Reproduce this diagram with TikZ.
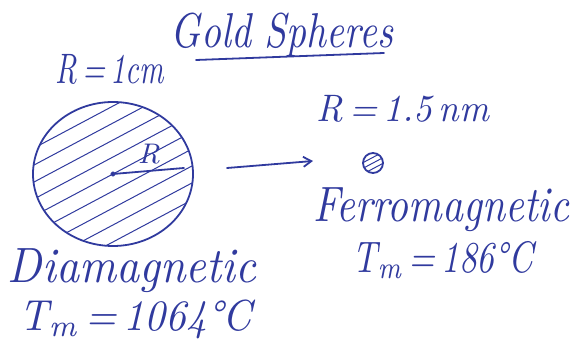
\documentclass[tikz,border=0pt]{standalone}
\usepackage{fontspec}
\setmainfont{Latin Modern Roman}
\usetikzlibrary{arrows.meta}
\definecolor{ink}{RGB}{48,58,158}
\begin{document}
\begin{tikzpicture}[x=1pt,y=1pt,
  ink/.style={draw=ink, line width=1.8pt, line cap=round, line join=round},
  hatch/.style={draw=ink, line width=1pt, line cap=round},
  hand/.style={text=ink, inner sep=0pt, anchor=center, font=\itshape}]
\useasboundingbox (0,0) rectangle (574,-344);
% title
\node[hand] (title) at (282,-35) {\resizebox*{222pt}{44pt}{Gold Spheres}};
\coordinate (ul1) at (196,-60);
\coordinate (ul2) at (384,-53);
\draw[ink] (ul1) -- (ul2);
% large sphere
\node[hand] (R1) at (110,-69) {\resizebox*{108pt}{30pt}{R\,=\,1cm}};
\coordinate (c1) at (113,-174);
\begin{scope}
  \clip (c1) ellipse [x radius=80, y radius=72];
  \foreach \k in {-5,...,5} {
    \draw[hatch, shift={(c1)}, rotate=28] (-100,\k*15) -- (100,\k*15);
  }
\end{scope}
\draw[ink] (c1) ellipse [x radius=80, y radius=72];
\fill[ink] (c1) circle (1.8);
\coordinate (rend) at (184,-168);
\draw[ink] (c1) -- (rend);
\node[hand] (Rlab) at (149,-154) {\resizebox*{22pt}{20pt}{R}};
% arrow
\coordinate (a1) at (227,-168);
\coordinate (a2) at (313,-161);
\draw[ink, -{Straight Barb[length=8pt,width=10pt]}] (a1) -- (a2);
% small sphere
\node[hand] (R2) at (403,-109) {\resizebox*{172pt}{27pt}{R\,=\,1.5\,nm}};
\coordinate (c2) at (373,-163);
\begin{scope}
  \clip (c2) circle (10);
  \foreach \k in {-1,0,1} {
    \draw[hatch, shift={(c2)}, rotate=28] (-15,\k*5) -- (15,\k*5);
  }
\end{scope}
\draw[ink] (c2) circle (10);
% labels
\node[hand] (ferro) at (441,-210) {\resizebox*{256pt}{44pt}{Ferromagnetic}};
\node[hand] (tm2) at (443,-260) {\resizebox*{180pt}{38pt}{T\textsubscript{m}\,=\,186\textdegree C}};
\node[hand] (dia) at (132,-271) {\resizebox*{248pt}{44pt}{Diamagnetic}};
\node[hand] (tm1) at (136,-319) {\resizebox*{232pt}{39pt}{T\textsubscript{m}\,=\,1064\textdegree C}};
\end{tikzpicture}
\end{document}
